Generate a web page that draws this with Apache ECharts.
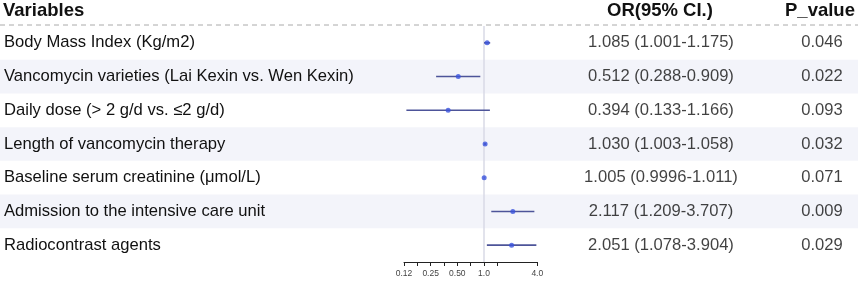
<!DOCTYPE html>
<html>
<head>
<meta charset="utf-8">
<script src="https://cdn.jsdelivr.net/npm/echarts@6/dist/echarts.min.js"></script>
<style>
  html, body { margin: 0; padding: 0; background: #fff; }
  #chart { width: 858px; height: 282px; }
</style>
</head>
<body>
<div id="chart"></div>
<script>
const variables = [
  "Body Mass Index (Kg/m2)",
  "Vancomycin varieties (Lai Kexin vs. Wen Kexin)",
  "Daily dose (> 2 g/d vs. \u22642 g/d)",
  "Length of vancomycin therapy",
  "Baseline serum creatinine (\u03bcmol/L)",
  "Admission to the intensive care unit",
  "Radiocontrast agents"
];
const orValues = [1.085, 0.512, 0.394, 1.030, 1.005, 2.117, 2.051];
const ciLower = [1.001, 0.288, 0.133, 1.003, 0.9996, 1.209, 1.078];
const ciUpper = [1.175, 0.909, 1.166, 1.058, 1.011, 3.707, 3.904];
const orText = [
  "1.085 (1.001-1.175)",
  "0.512 (0.288-0.909)",
  "0.394 (0.133-1.166)",
  "1.030 (1.003-1.058)",
  "1.005 (0.9996-1.011)",
  "2.117 (1.209-3.707)",
  "2.051 (1.078-3.904)"
];
const pValues = ["0.046", "0.022", "0.093", "0.032", "0.071", "0.009", "0.029"];
// tick positions on the OR axis (log2 scale)
const tickValues = [0.125, 0.177, 0.25, 0.354, 0.5, 0.707, 1, 1.414, 4];
const tickLabels = { 0.125: "0.12", 0.25: "0.25", 0.5: "0.50", 1: "1.0", 4: "4.0" };

const log2 = Math.log2;
const FONT = "Liberation Sans, Arial, sans-serif";
const TEXT_SIZE = 16.6;

const chart = echarts.init(document.getElementById("chart"), null, { renderer: "canvas" });

const gridTop = 26;
const gridH = 236;
const headStyle = { fontFamily: FONT, fontSize: 18.5, fontWeight: "bold", color: "#111" };

chart.setOption({
  animation: false,
  backgroundColor: "#fff",
  grid: [
    // full-width table grid (row bands + text)
    { left: 0, top: gridTop, width: 858, height: gridH, z: 0 },
    // forest plot grid
    { left: 404, top: gridTop, width: 133.3, height: gridH }
  ],
  title: [
    { text: "Variables", left: 3, top: 1, padding: 0, textStyle: headStyle },
    { text: "OR(95% CI.)", left: 607, top: 1, padding: 0, textStyle: headStyle },
    { text: "P_value", left: 785, top: 1, padding: 0, textStyle: headStyle }
  ],
  graphic: [
    {
      type: "line",
      shape: { x1: 0, y1: 25, x2: 858, y2: 25 },
      style: { stroke: "#aaa", lineWidth: 1, lineDash: [5, 4] },
      z: 10
    }
  ],
  xAxis: [
    { gridIndex: 0, type: "value", min: 0, max: 858, show: false },
    {
      gridIndex: 1,
      type: "value",
      min: -3,
      max: 2,
      interval: 0.5,
      splitLine: { show: false },
      axisLine: { show: true, lineStyle: { color: "#222", width: 1 } },
      axisTick: {
        show: true,
        length: 4,
        lineStyle: { color: "#222" },
        customValues: tickValues.map(log2)
      },
      axisLabel: {
        fontFamily: FONT,
        fontSize: 8.5,
        color: "#444",
        margin: 7,
        customValues: Object.keys(tickLabels).map(Number).map(log2),
        formatter: function (v) {
          const raw = Math.pow(2, v);
          const key = Object.keys(tickLabels).find(k => Math.abs(Number(k) - raw) < 1e-6);
          return key ? tickLabels[key] : "";
        }
      }
    }
  ],
  yAxis: [
    {
      gridIndex: 0,
      type: "category",
      inverse: true,
      data: variables,
      axisLine: { show: false },
      axisTick: { show: false },
      splitLine: { show: false },
      splitArea: { show: true, areaStyle: { color: ["rgba(255,255,255,0)", "#f3f4fa"] } },
      axisLabel: {
        inside: true,
        margin: 4,
        align: "left",
        fontFamily: FONT,
        fontSize: TEXT_SIZE,
        color: "#111"
      },
      z: 0
    },
    {
      gridIndex: 1,
      type: "category",
      inverse: true,
      data: variables,
      show: false
    }
  ],
  series: [
    {
      name: "orText",
      type: "scatter",
      xAxisIndex: 0,
      yAxisIndex: 0,
      symbolSize: 0,
      silent: true,
      data: orText.map((t, i) => [661, i]),
      label: {
        show: true,
        position: "inside",
        fontFamily: FONT,
        fontSize: TEXT_SIZE,
        color: "#111",
        formatter: p => orText[p.dataIndex]
      },
      z: 5
    },
    {
      name: "p",
      type: "scatter",
      xAxisIndex: 0,
      yAxisIndex: 0,
      symbolSize: 0,
      silent: true,
      data: pValues.map((t, i) => [822, i]),
      label: {
        show: true,
        position: "inside",
        fontFamily: FONT,
        fontSize: TEXT_SIZE,
        color: "#111",
        formatter: p => pValues[p.dataIndex]
      },
      z: 5
    },
    {
      name: "ci",
      type: "custom",
      xAxisIndex: 1,
      yAxisIndex: 1,
      data: variables.map((v, i) => [i, log2(ciLower[i]), log2(ciUpper[i])]),
      renderItem: function (params, api) {
        const a = api.coord([api.value(1), api.value(0)]);
        const b = api.coord([api.value(2), api.value(0)]);
        return {
          type: "line",
          shape: { x1: a[0], y1: a[1], x2: b[0], y2: b[1] },
          style: { stroke: "#4d5499", lineWidth: 1.6 }
        };
      },
      markLine: {
        silent: true,
        symbol: "none",
        label: { show: false },
        lineStyle: { color: "#d8dae6", type: "solid", width: 1.5 },
        data: [{ xAxis: 0 }],
        z: 1
      },
      z: 6
    },
    {
      name: "OR",
      type: "scatter",
      xAxisIndex: 1,
      yAxisIndex: 1,
      symbol: "circle",
      symbolSize: 5,
      itemStyle: { color: "#3a52dc" },
      data: orValues.map((v, i) => [log2(v), i]),
      z: 7
    }
  ]
});
</script>
</body>
</html>
